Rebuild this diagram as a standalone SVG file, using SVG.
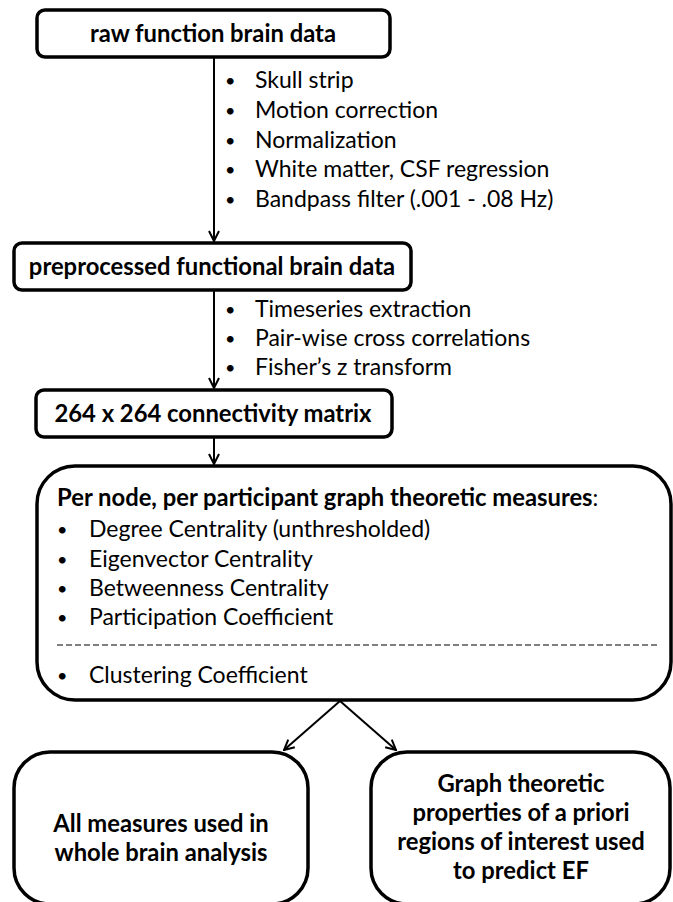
<svg xmlns="http://www.w3.org/2000/svg" width="673" height="902" viewBox="0 0 673 902">
<defs>
<style>
.box{fill:#fff;stroke:#000;stroke-width:3.5}
.t{font-family:Lato,"Liberation Sans",sans-serif;font-size:23px;fill:#000}
.b{font-weight:bold;font-size:23.8px}
.c{text-anchor:middle}
.bu{font-size:18px}
.edge{stroke:#000;stroke-width:2;fill:none;marker-end:url(#ah)}
</style>
<marker id="ah" viewBox="0 0 12 12" refX="11" refY="6" markerWidth="12" markerHeight="12" markerUnits="userSpaceOnUse" orient="auto">
<path d="M1,1 L11,6 L1,11" fill="none" stroke="#000" stroke-width="2"/>
</marker>
</defs>
<rect width="673" height="902" fill="#fff"/>
<g id="connectors">
<line class="edge" x1="214" y1="57" x2="214" y2="241"/>
<line class="edge" x1="214" y1="290" x2="214" y2="388"/>
<line class="edge" x1="214" y1="437" x2="214" y2="464"/>
<line class="edge" x1="340" y1="701" x2="284" y2="750"/>
<line class="edge" x1="340" y1="701" x2="396" y2="750"/>
</g>
<g id="n1">
<rect class="box" x="37" y="10" width="353" height="47" rx="8"/>
<text class="t b c" x="213" y="42">raw function brain data</text>
</g>
<g id="steps1" class="t">
<text class="bu" x="225" y="87">•</text><text x="255" y="88">Skull strip</text>
<text class="bu" x="225" y="117">•</text><text x="255" y="118">Motion correction</text>
<text class="bu" x="225" y="147">•</text><text x="255" y="148">Normalization</text>
<text class="bu" x="225" y="176">•</text><text x="255" y="177">White matter, CSF regression</text>
<text class="bu" x="225" y="206">•</text><text x="255" y="207">Bandpass filter (.001 - .08 Hz)</text>
</g>
<g id="n2">
<rect class="box" x="14" y="243" width="397" height="47" rx="8"/>
<text class="t b c" x="212" y="275">preprocessed functional brain data</text>
</g>
<g id="steps2" class="t">
<text class="bu" x="225" y="316">•</text><text x="255" y="317">Timeseries extraction</text>
<text class="bu" x="225" y="345">•</text><text x="255" y="346">Pair-wise cross correlations</text>
<text class="bu" x="225" y="374">•</text><text x="255" y="375">Fisher’s z transform</text>
</g>
<g id="n3">
<rect class="box" x="36" y="390" width="356" height="47" rx="8"/>
<text class="t b c" x="213" y="422">264 x 264 connectivity matrix</text>
</g>
<g id="n4">
<rect class="box" x="37" y="466" width="634" height="234" rx="38"/>
<text class="t" x="57" y="506"><tspan class="b">Per node, per participant graph theoretic measures</tspan>:</text>
<text class="t bu" x="57" y="536">•</text><text class="t" x="89" y="537">Degree Centrality (unthresholded)</text>
<text class="t bu" x="57" y="566">•</text><text class="t" x="89" y="567">Eigenvector Centrality</text>
<text class="t bu" x="57" y="595">•</text><text class="t" x="89" y="596">Betweenness Centrality</text>
<text class="t bu" x="57" y="624">•</text><text class="t" x="89" y="625">Participation Coefficient</text>
<line x1="57" y1="645" x2="659" y2="645" stroke="#000" stroke-width="1.2" stroke-dasharray="6,3"/>
<text class="t bu" x="57" y="682">•</text><text class="t" x="89" y="683">Clustering Coefficient</text>
</g>
<g id="n5">
<rect class="box" x="14" y="752" width="294" height="152" rx="36"/>
<text class="t b c" x="161" y="832">All measures used in</text>
<text class="t b c" x="161" y="861">whole brain analysis</text>
</g>
<g id="n6">
<rect class="box" x="371" y="752" width="299" height="152" rx="36"/>
<text class="t b c" x="521" y="792">Graph theoretic</text>
<text class="t b c" x="521" y="821">properties of a priori</text>
<text class="t b c" x="521" y="850">regions of interest used</text>
<text class="t b c" x="521" y="879">to predict EF</text>
</g>
</svg>
